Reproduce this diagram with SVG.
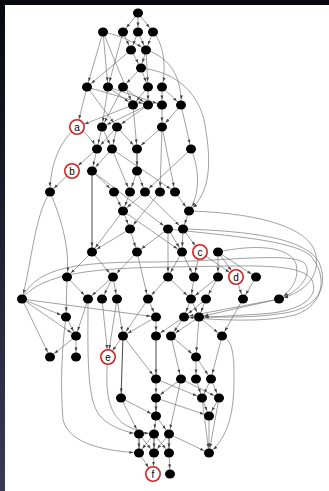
<svg xmlns="http://www.w3.org/2000/svg" width="329" height="491" viewBox="0 0 329 491">
<defs>
<linearGradient id="bg" x1="0" y1="0" x2="0" y2="1">
<stop offset="0" stop-color="#08080f"/>
<stop offset="1" stop-color="#3a3a58"/>
</linearGradient>
<marker id="ar" markerWidth="14" markerHeight="4" refX="9.6" refY="1.5" orient="auto" markerUnits="userSpaceOnUse"><path d="M0,0 L4,1.5 L0,3 z" fill="#444"/></marker>
<marker id="arl" markerWidth="16" markerHeight="4" refX="12.2" refY="1.5" orient="auto" markerUnits="userSpaceOnUse"><path d="M0,0 L4,1.5 L0,3 z" fill="#444"/></marker>
</defs>
<style>
.e path{fill:none;stroke:#6e6e6e;stroke-width:0.65;marker-end:url(#ar)}
.e path.l{marker-end:url(#arl)}
.e path.k{stroke:#333;stroke-width:0.9}
.n ellipse{fill:#000}
.lab circle{fill:#fff;stroke:#d92020;stroke-width:1.6}
.lab text{font-family:"Liberation Sans",Arial,sans-serif;font-size:10px;fill:#000;text-anchor:middle}
</style>
<rect x="0" y="0" width="329" height="491" fill="url(#bg)"/>
<rect x="5" y="5" width="324" height="486" fill="#fff"/>
<g id="edges" class="e">
<path d="M138,13 L123,32"/><path d="M138,13 L138,32"/><path d="M138,13 L153,32"/>
<path d="M103,32 L87,87"/><path d="M103,32 L108,87"/><path d="M103,32 Q125,36 146,50"/><path d="M103,32 L133,105"/>
<path d="M123,32 L131,50"/><path d="M123,32 L108,87"/>
<path d="M138,32 L131,50"/><path d="M138,32 L146,50"/>
<path d="M153,32 L146,50"/><path d="M153,32 C165,45 166,70 162,87"/>
<path d="M131,50 L141,68"/><path d="M146,50 L141,68"/><path d="M131,50 L87,87"/><path d="M146,50 L148,87"/>
<path d="M146,50 C172,58 182,80 181,105"/>
<path d="M141,68 C178,72 200,95 205,125 C211,160 212,192 189,211"/>
<path d="M141,68 L123,87"/><path d="M141,68 L148,87"/>
<path class="l" d="M87,87 L77,127"/><path d="M87,87 L117,127"/><path d="M87,87 L148,105"/>
<path d="M108,87 L102,127"/><path d="M108,87 L133,105"/><path d="M108,87 L162,105"/>
<path d="M123,87 L148,105"/><path d="M123,87 L102,127"/>
<path d="M148,87 L133,105"/><path d="M148,87 L148,105"/>
<path d="M162,87 L162,105"/><path d="M162,87 L181,105"/>
<path class="l" d="M133,105 L77,127"/><path d="M133,105 L137,149"/>
<path d="M148,105 L117,127"/><path d="M148,105 L102,127"/>
<path d="M162,105 L162,127"/>
<path d="M181,105 L162,127"/><path d="M181,105 L191,149"/>
<path d="M77,127 C60,140 50,165 50,192"/><path d="M77,127 Q90,135 97,149"/>
<path d="M102,127 L97,149"/><path d="M102,127 L112,149"/>
<path d="M117,127 L112,149"/><path d="M117,127 L97,149"/><path d="M117,127 L137,149"/>
<path d="M162,127 L137,149"/><path d="M162,127 L175,192"/><path d="M162,127 L160,192"/>
<path d="M191,149 C200,170 200,195 189,211"/><path d="M191,149 L145,192"/>
<path d="M97,149 L92,171"/><path class="l" d="M97,149 L72,171"/>
<path d="M112,149 L92,171"/><path d="M112,149 L130,192"/><path d="M112,149 L175,192"/>
<path class="k" d="M137,149 L137,171"/>
<path d="M72,171 L50,192"/>
<path class="k" d="M92,171 L92,252"/><path d="M92,171 L114,192"/><path d="M92,171 L168,229"/>
<path d="M137,171 L145,192"/><path d="M137,171 L130,192"/>
<path d="M50,192 C35,215 32,260 22,299"/><path d="M50,192 C62,220 70,250 67,277"/>
<path d="M114,192 L123,211"/><path d="M130,192 L123,211"/><path d="M145,192 L123,211"/>
<path d="M160,192 L130,229"/><path d="M175,192 L189,211"/><path d="M145,192 L183,229"/>
<path d="M123,211 L130,229"/><path d="M123,211 L92,252"/><path d="M123,211 L182,252"/>
<path d="M189,211 L183,229"/>
<path d="M130,229 L137,252"/><path d="M130,229 L92,252"/>
<path d="M168,229 L182,252"/><path d="M168,229 L168,277"/><path d="M168,229 L137,252"/>
<path d="M183,229 L182,252"/><path class="l" d="M183,229 L200,252"/>
<path d="M92,252 L113,277"/><path d="M92,252 L67,277"/>
<path d="M137,252 L113,277"/><path d="M137,252 L148,299"/>
<path d="M182,252 L168,277"/><path d="M182,252 L194,277"/>
<path d="M200,252 L194,277"/><path class="l" d="M200,252 L236,277"/>
<path d="M218,252 L218,277"/><path class="l" d="M218,252 L236,277"/><path d="M218,252 L256,277"/>
<path d="M67,277 L66,317"/><path d="M67,277 L88,299"/>
<path d="M113,277 L88,299"/><path d="M113,277 L117,299"/><path d="M113,277 L102,299"/>
<path d="M168,277 L148,299"/><path d="M168,277 L191,299"/>
<path d="M194,277 L191,299"/>
<path d="M218,277 L206,299"/><path d="M218,277 L191,299"/>
<path d="M236,277 L243,299"/><path d="M256,277 L243,299"/>
<path d="M22,299 L66,317"/><path d="M22,299 L76,336"/><path d="M22,299 L50,357"/><path d="M22,299 L156,317"/>
<path d="M88,299 L76,336"/>
<path d="M88,299 C88,350 86,400 100,416 C110,427 125,432 139,434"/>
<path class="l" d="M102,299 L108,357"/>
<path d="M117,299 L123,336"/><path class="l" d="M117,299 L108,357"/>
<path d="M148,299 L156,317"/><path d="M148,299 L123,336"/>
<path d="M191,299 L184,317"/><path d="M191,299 L199,317"/>
<path d="M206,299 L199,317"/><path d="M206,299 L184,317"/>
<path d="M243,299 L222,336"/>
<path d="M279,299 L199,317"/><path d="M279,299 L184,317"/>
<path d="M66,317 L76,336"/>
<path d="M66,317 C62,345 60,385 63,420 C70,446 110,451 139,453"/>
<path d="M156,317 L156,336"/><path d="M156,317 L123,336"/>
<path d="M184,317 L171,336"/><path d="M184,317 L156,336"/>
<path d="M199,317 L171,336"/><path d="M199,317 L222,336"/><path d="M199,317 L196,357"/>
<path d="M76,336 L50,357"/><path d="M76,336 L76,357"/>
<path class="l" d="M123,336 L108,357"/><path class="k" d="M123,336 L121,398"/><path d="M123,336 L156,379"/>
<path class="k" d="M156,336 L156,379"/>
<path d="M171,336 L196,357"/><path d="M171,336 L181,379"/>
<path d="M222,336 C234,340 234,360 234,380 C234,420 225,440 209,453"/>
<path d="M222,336 L211,379"/>
<path d="M108,357 C104,395 110,414 124,424 C135,431 145,433 154,434"/>
<path d="M196,357 L196,379"/><path d="M196,357 L211,379"/>
<path d="M156,379 L156,398"/><path d="M156,379 L202,398"/>
<path d="M181,379 L219,398"/><path d="M181,379 L169,434"/><path d="M181,379 L156,398"/>
<path d="M196,379 L202,398"/>
<path d="M211,379 L202,398"/><path d="M211,379 L219,398"/>
<path d="M121,398 L156,416"/><path d="M121,398 L139,434"/>
<path class="k" d="M156,398 L156,416"/><path d="M156,398 L209,416"/>
<path d="M202,398 L209,416"/><path d="M202,398 L209,453"/>
<path d="M219,398 L209,416"/><path d="M219,398 L209,453"/>
<path d="M156,416 L154,434"/><path d="M156,416 L169,434"/>
<path d="M209,416 L209,453"/>
<path class="k" d="M139,434 L139,453"/><path d="M139,434 L154,453"/>
<path class="k" d="M154,434 L154,453"/><path d="M154,434 L139,453"/><path d="M154,434 L169,453"/>
<path class="k" d="M169,434 L169,453"/><path d="M169,434 L209,453"/><path d="M169,434 L154,453"/>
<path class="l" d="M139,453 L153,474"/><path class="l" d="M154,453 L153,474"/>
<path d="M169,453 L170,474"/>
<path d="M189,211 C260,213 312,228 316,256 C320,280 300,294 279,299"/>
<path d="M183,229 C250,231 305,238 319,262 C330,290 315,308 285,313 C255,318 225,317 199,317"/>
<path d="M168,229 C230,236 290,240 310,255 C328,275 325,305 295,315 C265,323 215,320 184,317"/>
<path d="M218,252 C255,244 290,246 296,264 C300,280 290,292 279,299"/>
<path d="M22,299 C35,268 75,262 150,262 C220,262 285,252 303,262 C315,272 300,292 279,299"/>
<path d="M22,299 C42,272 100,268 170,267 C250,266 300,262 312,280 C320,298 300,312 260,314 C230,316 212,317 199,317"/>
</g>
<g class="n">
<g id="n1"><ellipse cx="138" cy="13" rx="5" ry="4.6"/></g>
<g id="n2"><ellipse cx="103" cy="32" rx="5" ry="4.6"/></g>
<g id="n3"><ellipse cx="123" cy="32" rx="5" ry="4.6"/></g>
<g id="n4"><ellipse cx="138" cy="32" rx="5" ry="4.6"/></g>
<g id="n5"><ellipse cx="153" cy="32" rx="5" ry="4.6"/></g>
<g id="n6"><ellipse cx="131" cy="50" rx="5" ry="4.6"/></g>
<g id="n7"><ellipse cx="146" cy="50" rx="5" ry="4.6"/></g>
<g id="n8"><ellipse cx="141" cy="68" rx="5" ry="4.6"/></g>
<g id="n9"><ellipse cx="87" cy="87" rx="5" ry="4.6"/></g>
<g id="n10"><ellipse cx="108" cy="87" rx="5" ry="4.6"/></g>
<g id="n11"><ellipse cx="123" cy="87" rx="5" ry="4.6"/></g>
<g id="n12"><ellipse cx="148" cy="87" rx="5" ry="4.6"/></g>
<g id="n13"><ellipse cx="162" cy="87" rx="5" ry="4.6"/></g>
<g id="n14"><ellipse cx="133" cy="105" rx="5" ry="4.6"/></g>
<g id="n15"><ellipse cx="148" cy="105" rx="5" ry="4.6"/></g>
<g id="n16"><ellipse cx="162" cy="105" rx="5" ry="4.6"/></g>
<g id="n17"><ellipse cx="181" cy="105" rx="5" ry="4.6"/></g>
<g id="n18"><ellipse cx="102" cy="127" rx="5" ry="4.6"/></g>
<g id="n19"><ellipse cx="117" cy="127" rx="5" ry="4.6"/></g>
<g id="n20"><ellipse cx="162" cy="127" rx="5" ry="4.6"/></g>
<g id="n21"><ellipse cx="97" cy="149" rx="5" ry="4.6"/></g>
<g id="n22"><ellipse cx="112" cy="149" rx="5" ry="4.6"/></g>
<g id="n23"><ellipse cx="137" cy="149" rx="5" ry="4.6"/></g>
<g id="n24"><ellipse cx="191" cy="149" rx="5" ry="4.6"/></g>
<g id="n25"><ellipse cx="92" cy="171" rx="5" ry="4.6"/></g>
<g id="n26"><ellipse cx="137" cy="171" rx="5" ry="4.6"/></g>
<g id="n27"><ellipse cx="50" cy="192" rx="5" ry="4.6"/></g>
<g id="n28"><ellipse cx="114" cy="192" rx="5" ry="4.6"/></g>
<g id="n29"><ellipse cx="130" cy="192" rx="5" ry="4.6"/></g>
<g id="n30"><ellipse cx="145" cy="192" rx="5" ry="4.6"/></g>
<g id="n31"><ellipse cx="160" cy="192" rx="5" ry="4.6"/></g>
<g id="n32"><ellipse cx="175" cy="192" rx="5" ry="4.6"/></g>
<g id="n33"><ellipse cx="123" cy="211" rx="5" ry="4.6"/></g>
<g id="n34"><ellipse cx="189" cy="211" rx="5" ry="4.6"/></g>
<g id="n35"><ellipse cx="130" cy="229" rx="5" ry="4.6"/></g>
<g id="n36"><ellipse cx="168" cy="229" rx="5" ry="4.6"/></g>
<g id="n37"><ellipse cx="183" cy="229" rx="5" ry="4.6"/></g>
<g id="n38"><ellipse cx="92" cy="252" rx="5" ry="4.6"/></g>
<g id="n39"><ellipse cx="137" cy="252" rx="5" ry="4.6"/></g>
<g id="n40"><ellipse cx="182" cy="252" rx="5" ry="4.6"/></g>
<g id="n41"><ellipse cx="218" cy="252" rx="5" ry="4.6"/></g>
<g id="n42"><ellipse cx="67" cy="277" rx="5" ry="4.6"/></g>
<g id="n43"><ellipse cx="113" cy="277" rx="5" ry="4.6"/></g>
<g id="n44"><ellipse cx="168" cy="277" rx="5" ry="4.6"/></g>
<g id="n45"><ellipse cx="194" cy="277" rx="5" ry="4.6"/></g>
<g id="n46"><ellipse cx="218" cy="277" rx="5" ry="4.6"/></g>
<g id="n47"><ellipse cx="256" cy="277" rx="5" ry="4.6"/></g>
<g id="n48"><ellipse cx="22" cy="299" rx="5" ry="4.6"/></g>
<g id="n49"><ellipse cx="88" cy="299" rx="5" ry="4.6"/></g>
<g id="n50"><ellipse cx="102" cy="299" rx="5" ry="4.6"/></g>
<g id="n51"><ellipse cx="117" cy="299" rx="5" ry="4.6"/></g>
<g id="n52"><ellipse cx="148" cy="299" rx="5" ry="4.6"/></g>
<g id="n53"><ellipse cx="191" cy="299" rx="5" ry="4.6"/></g>
<g id="n54"><ellipse cx="206" cy="299" rx="5" ry="4.6"/></g>
<g id="n55"><ellipse cx="243" cy="299" rx="5" ry="4.6"/></g>
<g id="n56"><ellipse cx="279" cy="299" rx="5" ry="4.6"/></g>
<g id="n57"><ellipse cx="66" cy="317" rx="5" ry="4.6"/></g>
<g id="n58"><ellipse cx="156" cy="317" rx="5" ry="4.6"/></g>
<g id="n59"><ellipse cx="184" cy="317" rx="5" ry="4.6"/></g>
<g id="n60"><ellipse cx="199" cy="317" rx="5" ry="4.6"/></g>
<g id="n61"><ellipse cx="76" cy="336" rx="5" ry="4.6"/></g>
<g id="n62"><ellipse cx="123" cy="336" rx="5" ry="4.6"/></g>
<g id="n63"><ellipse cx="156" cy="336" rx="5" ry="4.6"/></g>
<g id="n64"><ellipse cx="171" cy="336" rx="5" ry="4.6"/></g>
<g id="n65"><ellipse cx="222" cy="336" rx="5" ry="4.6"/></g>
<g id="n66"><ellipse cx="50" cy="357" rx="5" ry="4.6"/></g>
<g id="n67"><ellipse cx="76" cy="357" rx="5" ry="4.6"/></g>
<g id="n68"><ellipse cx="196" cy="357" rx="5" ry="4.6"/></g>
<g id="n69"><ellipse cx="156" cy="379" rx="5" ry="4.6"/></g>
<g id="n70"><ellipse cx="181" cy="379" rx="5" ry="4.6"/></g>
<g id="n71"><ellipse cx="196" cy="379" rx="5" ry="4.6"/></g>
<g id="n72"><ellipse cx="211" cy="379" rx="5" ry="4.6"/></g>
<g id="n73"><ellipse cx="121" cy="398" rx="5" ry="4.6"/></g>
<g id="n74"><ellipse cx="156" cy="398" rx="5" ry="4.6"/></g>
<g id="n75"><ellipse cx="202" cy="398" rx="5" ry="4.6"/></g>
<g id="n76"><ellipse cx="219" cy="398" rx="5" ry="4.6"/></g>
<g id="n77"><ellipse cx="156" cy="416" rx="5" ry="4.6"/></g>
<g id="n78"><ellipse cx="209" cy="416" rx="5" ry="4.6"/></g>
<g id="n79"><ellipse cx="139" cy="434" rx="5" ry="4.6"/></g>
<g id="n80"><ellipse cx="154" cy="434" rx="5" ry="4.6"/></g>
<g id="n81"><ellipse cx="169" cy="434" rx="5" ry="4.6"/></g>
<g id="n82"><ellipse cx="139" cy="453" rx="5" ry="4.6"/></g>
<g id="n83"><ellipse cx="154" cy="453" rx="5" ry="4.6"/></g>
<g id="n84"><ellipse cx="169" cy="453" rx="5" ry="4.6"/></g>
<g id="n85"><ellipse cx="209" cy="453" rx="5" ry="4.6"/></g>
<g id="n86"><ellipse cx="170" cy="474" rx="5" ry="4.6"/></g>
</g>
<g class="lab">
<g id="a"><circle cx="77" cy="127" r="7.2"/><text x="77" y="130.5">a</text></g>
<g id="b"><circle cx="72" cy="171" r="7.2"/><text x="72" y="174.5">b</text></g>
<g id="c"><circle cx="200" cy="252" r="7.2"/><text x="200" y="255.5">c</text></g>
<g id="d"><circle cx="236" cy="277" r="7.2"/><text x="236" y="280.5">d</text></g>
<g id="e"><circle cx="108" cy="357" r="7.2"/><text x="108" y="360.5">e</text></g>
<g id="f"><circle cx="153" cy="474" r="7.2"/><text x="153" y="477.5">f</text></g>
</g>
</svg>
